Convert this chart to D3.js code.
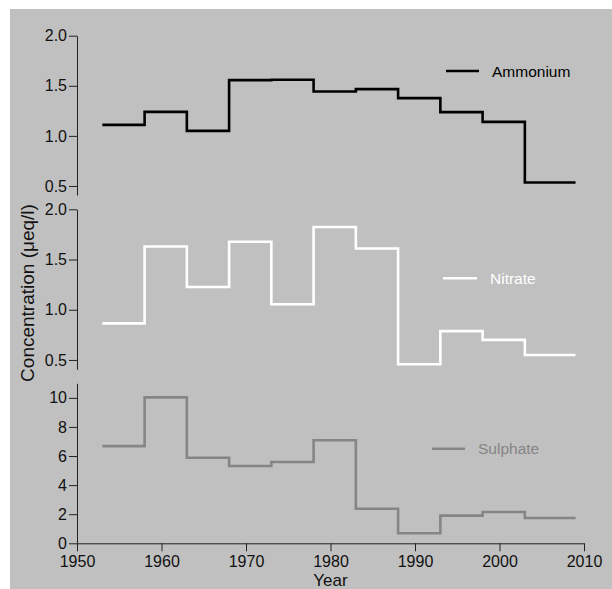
<!DOCTYPE html>
<html>
<head>
<meta charset="utf-8">
<script src="https://cdn.jsdelivr.net/npm/d3@7"></script>
<style>
  body { margin: 0; background: #fff; }
  text { font-family: "Liberation Sans", Arial, sans-serif; }
</style>
</head>
<body>
<div id="chart"></div>
<script>
// bin start years, last bin ends in 2009
var years = [1953, 1958, 1963, 1968, 1973, 1978, 1983, 1988, 1993, 1998, 2003];
var lastYear = 2009;

var ammonium = [1.11, 1.24, 1.05, 1.557, 1.56, 1.443, 1.467, 1.377, 1.237, 1.14, 0.535];
var nitrate = [0.864, 1.63, 1.227, 1.677, 1.054, 1.824, 1.61, 0.457, 0.787, 0.70, 0.55];
var sulphate = [6.68, 10.03, 5.88, 5.31, 5.59, 7.08, 2.38, 0.69, 1.9, 2.15, 1.74];

var xTicks = [1950, 1960, 1970, 1980, 1990, 2000, 2010];
var concTicks = [0.5, 1.0, 1.5, 2.0];
var sulphTicks = [0, 2, 4, 6, 8, 10];

var width = 612, height = 589;

var svg = d3.select("#chart")
  .append("svg")
    .attr("width", width)
    .attr("height", height);

// grey plot background
svg.append("rect")
    .attr("x", 10).attr("y", 9)
    .attr("width", width - 10).attr("height", height - 9)
    .attr("fill", "#c0c0c0");

var x = d3.scaleLinear().domain([1950, 2010]).range([77, 584]);

// one entry per panel
var panels = [
  {name: "Ammonium", values: ammonium, color: "#000", domain: [0.41, 2.0], range: [195, 35.7],
   ticks: concTicks, fmt: d3.format(".1f"), legend: [446, 479, 71]},
  {name: "Nitrate", values: nitrate, color: "#fff", domain: [0.407, 2.0], range: [369.3, 209.3],
   ticks: concTicks, fmt: d3.format(".1f"), legend: [443, 477, 278.3]},
  {name: "Sulphate", values: sulphate, color: "#858585", domain: [0, 11], range: [543.3, 383.3],
   ticks: sulphTicks, fmt: d3.format("d"), legend: [432, 465, 448.7]}
];

panels.forEach(function(p) {
  var y = d3.scaleLinear().domain(p.domain).range(p.range);

  var yAxis = svg.append("g")
      .attr("transform", "translate(" + x(1950) + ",0)")
      .call(d3.axisLeft(y).tickValues(p.ticks).tickFormat(p.fmt).tickSize(8).tickSizeOuter(0).tickPadding(2));
  yAxis.selectAll("path, line").attr("stroke", "#222");
  yAxis.selectAll("text").attr("font-size", "16px").attr("fill", "#111")
      .attr("font-family", "Liberation Sans, Arial, sans-serif");

  // step data: repeat last value at end year
  var pts = years.map(function(yr, i) { return [yr, p.values[i]]; });
  pts.push([lastYear, p.values[p.values.length - 1]]);

  var line = d3.line()
      .x(function(d) { return x(d[0]); })
      .y(function(d) { return y(d[1]); })
      .curve(d3.curveStepAfter);

  svg.append("path")
      .datum(pts)
      .attr("d", line)
      .attr("fill", "none")
      .attr("stroke", p.color)
      .attr("stroke-width", 2.6)
      .attr("stroke-linejoin", "miter");

  // legend
  svg.append("line")
      .attr("x1", p.legend[0]).attr("x2", p.legend[1])
      .attr("y1", p.legend[2]).attr("y2", p.legend[2])
      .attr("stroke", p.color)
      .attr("stroke-width", 2.6);
  svg.append("text")
      .attr("x", p.legend[1] + 13)
      .attr("y", p.legend[2] + 5.5)
      .attr("font-size", "15.5px")
      .attr("fill", p.color)
      .text(p.name);
});

// bottom x axis
var xAxis = svg.append("g")
    .attr("transform", "translate(0,543.3)")
    .call(d3.axisBottom(x).tickValues(xTicks).tickFormat(d3.format("d")).tickSize(8).tickSizeOuter(0).tickPadding(4));
xAxis.selectAll("path, line").attr("stroke", "#222");
xAxis.selectAll("text").attr("font-size", "16px").attr("fill", "#111")
    .attr("font-family", "Liberation Sans, Arial, sans-serif");

// axis titles
svg.append("text")
    .attr("x", 330.5).attr("y", 585.5)
    .attr("text-anchor", "middle")
    .attr("font-size", "17px")
    .attr("fill", "#111")
    .text("Year");

svg.append("text")
    .attr("transform", "translate(34.3,293) rotate(-90)")
    .attr("text-anchor", "middle")
    .attr("font-size", "19px")
    .attr("fill", "#111")
    .text("Concentration (\u03bceq/l)");
</script>
</body>
</html>
